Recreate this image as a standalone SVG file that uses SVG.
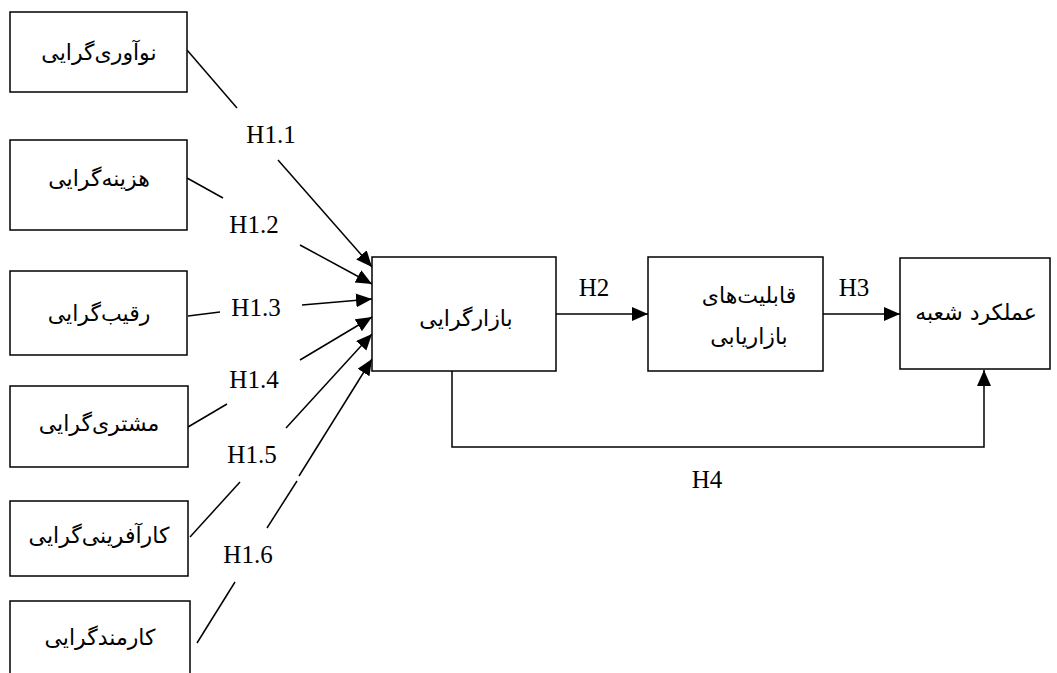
<svg xmlns="http://www.w3.org/2000/svg" width="1057" height="673" viewBox="0 0 1057 673">
<defs>
<marker id="arr" markerUnits="userSpaceOnUse" markerWidth="17" markerHeight="15" refX="16" refY="7" orient="auto">
<path d="M0,0 L16,7 L0,14 z" fill="#000"/>
</marker>
<style>
.box{fill:#fff;stroke:#000;stroke-width:1.5}
.fa{font-family:"DejaVu Sans","Noto Sans",sans-serif;font-size:22px;fill:#000;text-anchor:middle;direction:rtl}
.lb{font-family:"Liberation Serif","Times New Roman",serif;font-size:25px;fill:#000;text-anchor:middle}
.ln{fill:none;stroke:#000;stroke-width:1.5}
</style>
</defs>
<rect width="1057" height="673" fill="#fff"/>
<g id="connectors">
<line class="ln" x1="187" y1="50" x2="237" y2="108"/>
<line class="ln" x1="278" y1="160" x2="372" y2="267" marker-end="url(#arr)"/>
<line class="ln" x1="187" y1="178" x2="223" y2="198"/>
<line class="ln" x1="300" y1="245" x2="372" y2="284" marker-end="url(#arr)"/>
<line class="ln" x1="188" y1="316" x2="220" y2="312"/>
<line class="ln" x1="302" y1="305" x2="372" y2="299" marker-end="url(#arr)"/>
<line class="ln" x1="188" y1="427" x2="227" y2="404"/>
<line class="ln" x1="300" y1="360" x2="372" y2="317" marker-end="url(#arr)"/>
<line class="ln" x1="190" y1="537" x2="240" y2="482"/>
<line class="ln" x1="286" y1="428" x2="372" y2="334" marker-end="url(#arr)"/>
<line class="ln" x1="197" y1="643" x2="235" y2="582"/>
<line class="ln" x1="267" y1="528" x2="297" y2="481"/>
<line class="ln" x1="299" y1="476" x2="372" y2="359" marker-end="url(#arr)"/>
<line class="ln" x1="556" y1="314" x2="648" y2="314" marker-end="url(#arr)"/>
<line class="ln" x1="823" y1="314" x2="900" y2="314" marker-end="url(#arr)"/>
<polyline class="ln" points="452,371 452,447 984,447 984,370" marker-end="url(#arr)"/>
<text class="lb" x="271" y="143">H1.1</text>
<text class="lb" x="254" y="233">H1.2</text>
<text class="lb" x="256" y="316">H1.3</text>
<text class="lb" x="254" y="388">H1.4</text>
<text class="lb" x="252" y="463">H1.5</text>
<text class="lb" x="248" y="563">H1.6</text>
<text class="lb" x="594" y="296">H2</text>
<text class="lb" x="854" y="296">H3</text>
<text class="lb" x="707" y="488">H4</text>
</g>
<g id="n1"><rect class="box" x="10" y="12" width="177" height="80"/><text class="fa" x="99" y="60">نوآوری‌گرایی</text></g>
<g id="n2"><rect class="box" x="10" y="140" width="177" height="90"/><text class="fa" x="99" y="186">هزینه‌گرایی</text></g>
<g id="n3"><rect class="box" x="10" y="271" width="177" height="84"/><text class="fa" x="99" y="321">رقیب‌گرایی</text></g>
<g id="n4"><rect class="box" x="10" y="386" width="178" height="81"/><text class="fa" x="99" y="431">مشتری‌گرایی</text></g>
<g id="n5"><rect class="box" x="10" y="501" width="178" height="75"/><text class="fa" x="99" y="543">کارآفرینی‌گرایی</text></g>
<g id="n6"><rect class="box" x="10" y="601" width="180" height="90"/><text class="fa" x="100" y="645">کارمندگرایی</text></g>
<g id="n7"><rect class="box" x="372" y="257" width="184" height="114"/><text class="fa" x="466" y="326">بازارگرایی</text></g>
<g id="n8"><rect class="box" x="648" y="257" width="175" height="114"/><text class="fa" x="749" y="303">قابلیت‌های</text><text class="fa" x="749" y="344">بازاریابی</text></g>
<g id="n9"><rect class="box" x="900" y="258" width="150" height="111"/><text class="fa" x="976" y="320">عملکرد شعبه</text></g>
</svg>
